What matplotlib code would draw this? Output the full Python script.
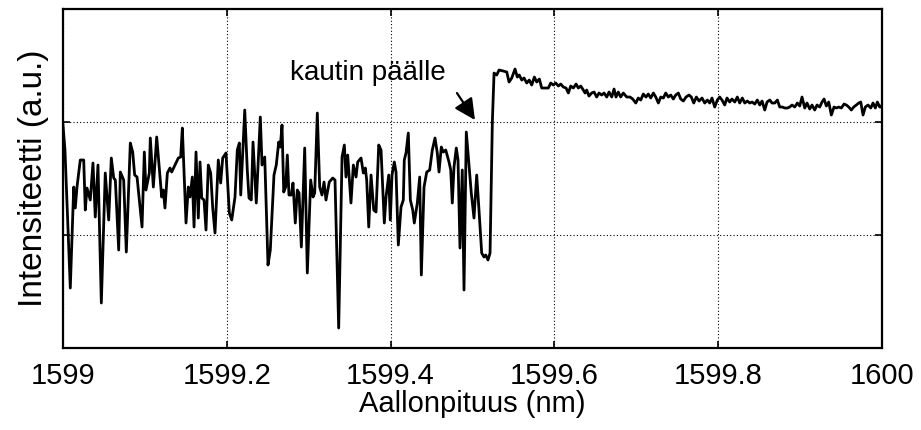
import numpy as np
import matplotlib
matplotlib.use('Agg')
import matplotlib.pyplot as plt

plt.rcParams['font.family'] = ['Liberation Sans', 'DejaVu Sans']

# wavelength offset from 1599 nm, in pm
offset_pm = [
    0, 2.4, 8.9, 13.1, 15.0, 17.1, 21.1, 25.3, 27.2, 29.3, 33.3, 36.6, 39.4, 42.7, 46.8,
    51.6, 55.8, 59.0, 61.9, 63.9, 68.0, 70.0, 74.1, 77.3, 82.2, 85.1, 87.5, 90.4, 96.5,
    99.3, 101.3, 105.4, 106.6, 110.3, 114.4, 120.5, 122.5, 124.5, 127.4, 130.6, 132.7,
    136.8, 140.8, 143.7, 145.7, 150.2, 153.0, 155.1, 157.9, 160.0, 162.4, 165.2, 167.3,
    169.4, 172.2, 174.6, 177.4, 180.3, 182.8, 185.6, 189.6, 192.5, 195.0, 199.0, 203.1,
    206.0, 210.0, 212.8, 215.3, 217.0, 221.9, 225.0, 227.1, 229.9, 232.0, 236.0, 240.9,
    243.0, 246.3, 250.3, 253.1, 257.6, 260.4, 263.4, 265.3, 267.4, 269.5, 271.9, 273.9,
    275.9, 278.8, 280.8, 283.6, 286.1, 288.2, 291.0, 295.1, 298.3, 302.4, 305.3, 307.3,
    310.5, 313.4, 316.2, 318.7, 321.1, 325.1, 329.3, 332.1, 336.6, 340.7, 343.5, 345.5,
    347.6, 351.6, 354.5, 357.8, 359.8, 363.9, 366.7, 369.1, 370.8, 373.3, 376.1, 379.4,
    382.2, 385.5, 388.3, 392.3, 394.4, 397.7, 399.6, 401.7, 404.5, 406.6, 409.4, 412.7,
    415.5, 416.7, 418.8, 421.6, 424.1, 427.0, 428.9, 431.0, 432.6, 435.5, 437.5, 440.8,
    444.1, 447.7, 450.9, 454.2, 457.0, 459.1, 461.9, 464.3, 467.3, 471.3, 473.4, 475.3,
    477.4, 480.2, 482.3, 484.7, 487.5, 489.6, 492.4, 495.7, 498.5, 501.8, 505.1, 507.9,
    511.2, 514.0, 516.1, 518.9, 521.4, 524.2, 526.3, 529.5, 532.4, 537.6, 541.8, 544.6,
    547.9, 551.9, 554.7, 557.1, 560.1, 562.9, 566.2, 569.3, 572.3, 575.5, 578.4, 581.6,
    584.5, 588.5, 592.6, 595.5, 598.7, 601.6, 604.8, 607.7, 610.9, 614.2, 617.0, 619.9,
    623.1, 626.4, 629.2, 632.1, 635.3, 637.4, 639.4, 642.2, 645.5, 648.4, 651.6, 654.5,
    657.7, 660.6, 663.9, 666.7, 670.0, 672.8, 675.2, 678.0, 680.9, 684.1, 688.3, 692.3,
    695.6, 699.3, 702.4, 705.4, 708.5, 711.8, 714.6, 717.6, 720.8, 723.7, 726.9, 729.8,
    733.0, 735.9, 739.1, 742.0, 745.2, 748.1, 751.3, 754.2, 757.4, 760.7, 764.3, 767.1,
    770.1, 773.3, 776.6, 780.2, 783.5, 786.7, 789.6, 792.4, 795.7, 798.9, 801.8, 804.6,
    807.9, 810.7, 814.0, 816.8, 820.2, 823.3, 826.2, 829.4, 832.4, 835.5, 838.5, 841.3,
    844.6, 847.7, 850.7, 853.5, 856.8, 859.6, 862.9, 865.7, 869.0, 872.2, 875.1, 878.3,
    881.2, 884.4, 887.3, 890.1, 893.4, 896.6, 899.5, 902.3, 905.6, 908.4, 911.7, 914.5,
    917.8, 920.6, 923.9, 926.7, 929.2, 932.0, 934.9, 938.1, 941.4, 944.2, 947.1, 950.3,
    953.6, 956.4, 959.3, 962.5, 965.4, 968.6, 971.5, 974.0, 976.8, 979.6, 982.9, 986.2,
    989.0, 991.8, 994.3, 997.2, 999.1, 1000.0,
]

# intensity, arbitrary units
intensity = [
    223, 198, 60, 161, 140, 161, 188, 188, 138, 160, 148, 185, 131, 183, 45,
    175, 128, 190, 170, 168, 98, 176, 168, 96, 205, 196, 173, 171, 121,
    196, 158, 175, 210, 161, 211, 151, 158, 140, 175, 180, 176,
    183, 190, 191, 220, 125, 161, 151, 171, 121, 196, 130, 186,
    150, 148, 118, 183, 175, 140, 115, 188, 165, 190, 195, 135,
    128, 151, 198, 205, 153, 238, 178, 150, 148, 206, 145, 231,
    183, 191, 83, 98, 173, 183, 206, 201, 223, 156, 161, 193,
    153, 153, 165, 125, 158, 155, 101, 200, 75, 168, 151, 155,
    235, 161, 153, 166, 148, 166, 170, 168, 20, 191, 203, 171,
    193, 145, 183, 171, 186, 190, 175, 180, 168, 121, 173, 138,
    136, 203, 198, 125, 151, 173, 128, 173, 186, 176, 103, 141,
    148, 188, 195, 215, 148, 138, 125, 136, 145, 171, 73, 161,
    176, 178, 198, 210, 195, 176, 201, 196, 198, 186, 178, 145,
    181, 200, 188, 100, 178, 58, 216, 183, 155, 130, 173, 138,
    95, 91, 93, 88, 95, 226, 275, 273, 278, 277, 276, 266,
    270, 279, 271, 273, 268, 270, 265, 268, 263, 271, 266, 269,
    260, 260, 260, 265, 263, 265, 262, 264, 261, 260, 255, 262,
    260, 264, 260, 262, 258, 255, 258, 252, 255, 256, 251, 255,
    253, 255, 251, 256, 251, 259, 251, 256, 251, 255, 251, 251,
    249, 245, 250, 248, 254, 251, 254, 250, 255, 251, 245, 251,
    250, 255, 251, 253, 249, 253, 255, 249, 247, 251, 253, 251,
    245, 251, 247, 250, 245, 248, 245, 250, 241, 248, 251, 248,
    243, 250, 246, 249, 246, 251, 245, 250, 245, 247, 245, 246,
    244, 248, 243, 247, 238, 246, 248, 245, 245, 248, 241, 241,
    240, 240, 241, 243, 241, 245, 242, 251, 240, 245, 239, 243,
    238, 243, 241, 246, 249, 242, 246, 233, 241, 240, 241, 240,
    244, 243, 241, 238, 241, 243, 245, 246, 233, 241, 243, 240,
    245, 240, 246, 241, 241, 243,
]

wavelength = 1599 + np.array(offset_pm) / 1000.0
x_ticks = [1599, 1599.2, 1599.4, 1599.6, 1599.8, 1600]
x_tick_labels = ['1599', '1599.2', '1599.4', '1599.6', '1599.8', '1600']
y_ticks = [0, 113, 226, 339]

fig = plt.figure(figsize=(9.21, 4.30), dpi=100)
ax = fig.add_axes([0.0684, 0.1907, 0.8893, 0.7883])

ax.plot(wavelength, intensity, color='black', linewidth=2.0)

ax.set_xlim(1599, 1600)
ax.set_ylim(0, 339)
ax.set_xticks(x_ticks)
ax.set_xticklabels(x_tick_labels)
ax.set_yticks(y_ticks)
ax.set_yticklabels([])

ax.grid(True, color='black', linestyle=(0, (1, 2)), linewidth=0.8)
ax.tick_params(direction='in', length=5, width=1.2, top=True, right=True,
               labelsize=21, pad=10)
for s in ax.spines.values():
    s.set_linewidth(1.6)

ax.set_xlabel('Aallonpituus (nm)', fontsize=21, labelpad=0)
ax.set_ylabel('Intensiteetti (a.u.)', fontsize=24, labelpad=0)

ax.text(1599.277, 268, 'kautin päälle', fontsize=20, va='baseline', ha='left')
ax.annotate('', xy=(1599.503, 228), xytext=(1599.481, 255),
            arrowprops=dict(arrowstyle='-|>', color='black', lw=1.6,
                            mutation_scale=32, shrinkA=0, shrinkB=0))

fig.savefig('out.png', dpi=100)
